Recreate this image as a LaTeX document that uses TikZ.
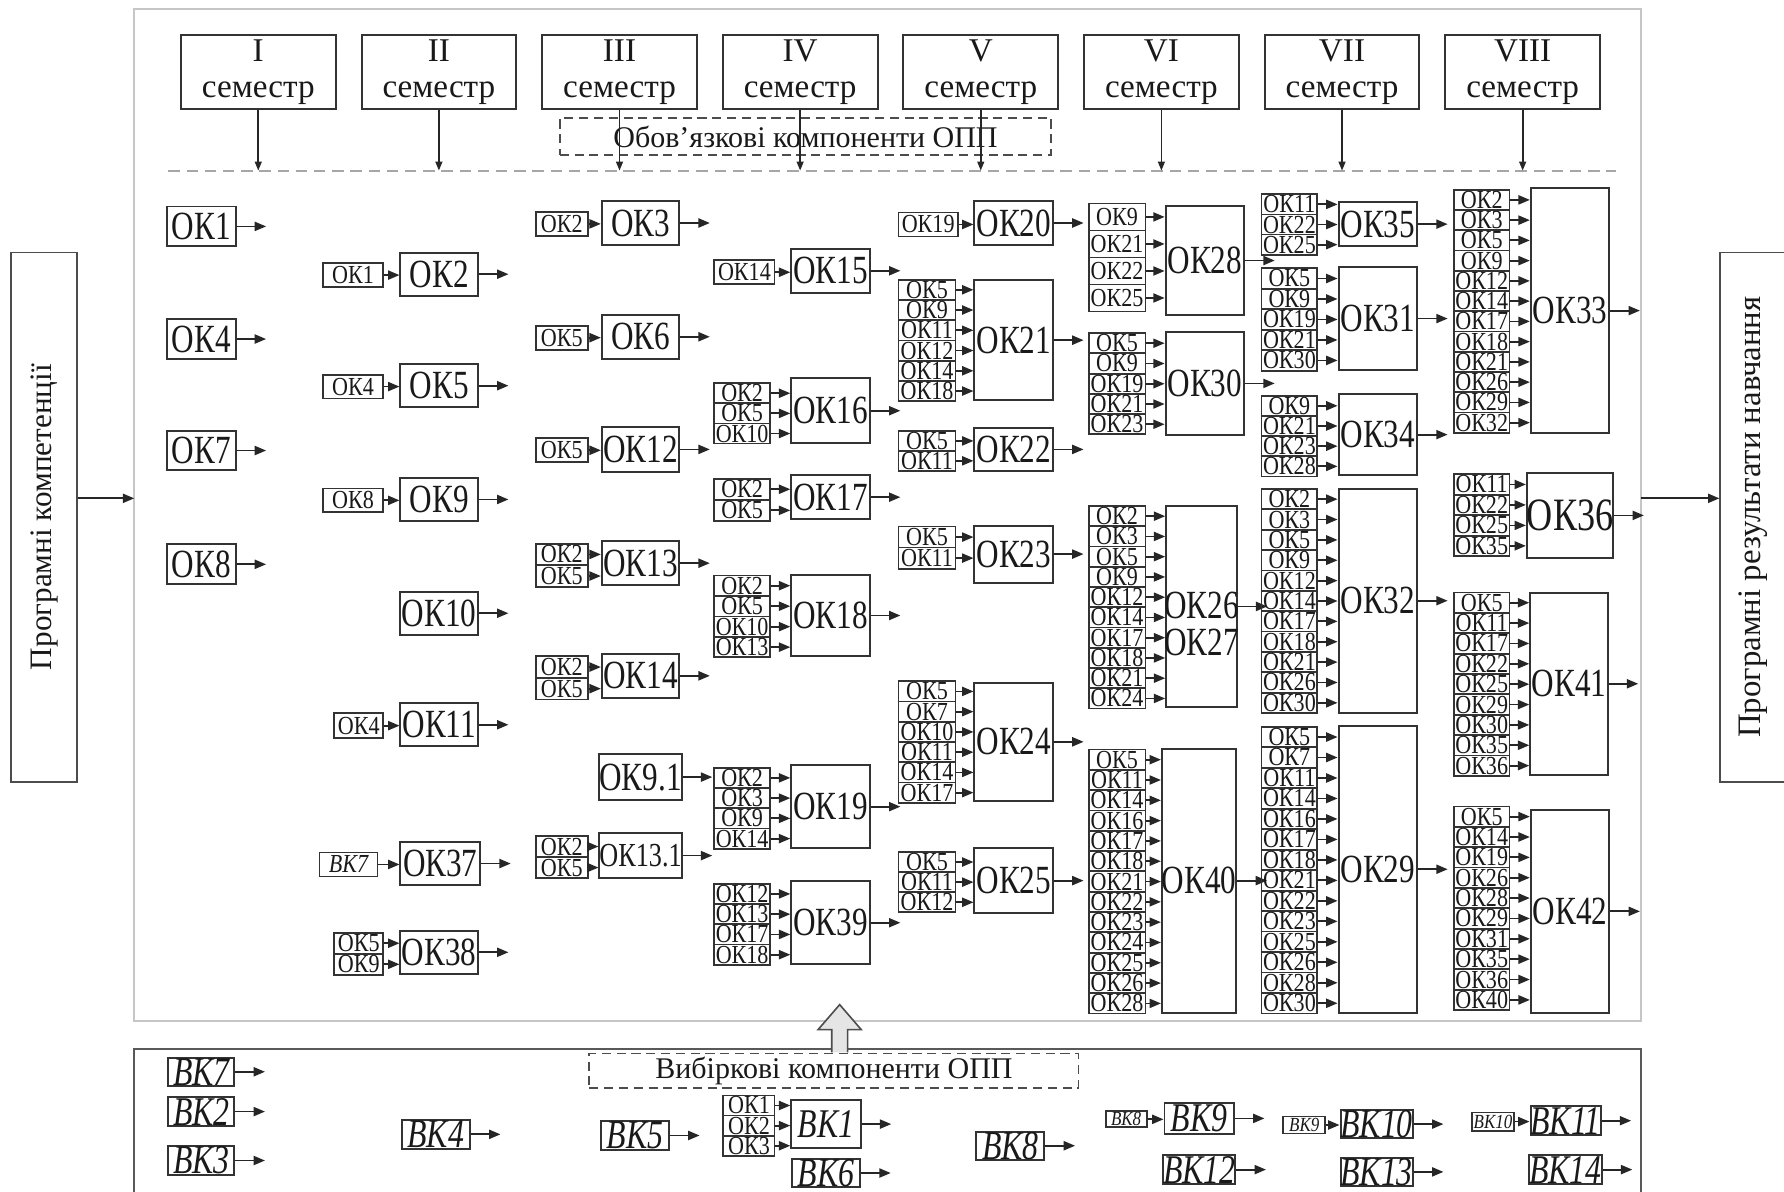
\documentclass[tikz,border=0pt]{standalone}
\usepackage{fontspec}
\setmainfont{Liberation Serif}
\newfontfamily\narrowfont[FakeStretch=0.78]{Liberation Serif}
\newfontfamily\cellfont[FakeStretch=0.85]{Liberation Serif}
\usetikzlibrary{arrows.meta,positioning}

% big box with its outgoing arrow: [style]{name}{x}{y}{width}{height}{label}
\newcommand{\okbox}[7][]{%
  \node[big,#1,minimum width=#5*0.1mm,minimum height=#6*0.1mm] (#2) at (#3,#4) {#7};
  \coordinate (#2-o) at ([xshift=2.6mm]#2.east);
  \draw[arr] (#2) -- (#2-o);
}
% column of prerequisite cells feeding a box: [width]{target}{x}{top}{cell height}{list}
\newcommand{\feeds}[6][5mm]{%
  \foreach \lab [count=\i] in {#6}{%
    \node[cell,minimum width=#1,minimum height=#5*0.1mm,anchor=north west]
      (#2-\i) at ({#3},{#4+(\i-1)*#5}) {\lab};
    \draw[arr] (#2-\i.east) -- (#2-\i.east -| #2.west);
  }%
}

\begin{document}
\begin{tikzpicture}[
    x=0.1mm, y=-0.1mm,
    every node/.style={inner sep=0pt, text=black!90},
    big/.style={draw=black!80, line width=0.5pt, align=center, font=\narrowfont\fontsize{10}{10.5}\selectfont},
    cell/.style={draw=black!80, line width=0.45pt, font=\cellfont\fontsize{6.5}{7}\selectfont},
    vk/.style={font=\narrowfont\itshape\fontsize{10.2}{11}\selectfont},
    sem/.style={draw=black!80, line width=0.5pt, minimum width=13.6mm, minimum height=6.5mm, align=center, font=\fontsize{8.3}{8.8}\selectfont},
    side/.style={draw=black!70, line width=0.45pt, rotate=90, minimum width=46.5mm, minimum height=5.8mm},
    group/.style={draw=black!70, dash pattern=on 0.8mm off 0.5mm, line width=0.45pt, font=\fontsize{7.5}{8}\selectfont},
    frame/.style={draw=gray!45, line width=0.5pt},
    arr/.style={-{Triangle[length=1mm, width=0.8mm]}, line width=0.45pt, black!85}
]
\useasboundingbox[fill=white] (0,0) rectangle (1568,1047);

% frames and side blocks
\coordinate (fnw) at (118,8);
\coordinate (fse) at (1442,897);
\draw[frame] (fnw) rectangle (fse);
\draw[draw=black!65, line width=0.5pt] (118,1060) -- (118,922) -- (1442,922) -- (1442,1060);
\node[side, font=\fontsize{7.8}{8}\selectfont] (pk) at (39,454.5) {Програмні компетенції};
\node[side, font=\fontsize{8.2}{8.5}\selectfont] (pr) at (1541,454.5) {Програмні результати навчання};
\coordinate (row) at (0,438);
\draw[arr] (pk.south |- row) -- (fnw |- row);
\draw[arr] (fse |- row) -- (pr.north |- row);

% semesters
\node[sem] (s1) at (227,63.5) {I\\семестр};
\node[sem, right=2.1mm of s1] (s2) {II\\семестр};
\node[sem, right=2.1mm of s2] (s3) {III\\семестр};
\node[sem, right=2.1mm of s3] (s4) {IV\\семестр};
\node[sem, right=2.1mm of s4] (s5) {V\\семестр};
\node[sem, right=2.1mm of s5] (s6) {VI\\семестр};
\node[sem, right=2.1mm of s6] (s7) {VII\\семестр};
\node[sem, right=2.1mm of s7] (s8) {VIII\\семестр};
\node[group, minimum width=43.2mm, minimum height=3.2mm] (obov) at (708,120) {Обов’язкові компоненти ОПП};
\coordinate (dlw) at (148,150);
\coordinate (dle) at (1420,150);
\draw[gray!70, line width=0.5pt, dash pattern=on 1mm off 0.6mm] (dlw) -- (dle);
\foreach \i in {1,...,8}
  \draw[arr, -{Triangle[length=0.8mm, width=0.6mm]}] (s\i) -- (s\i |- dlw);

% semester I
\okbox{ok1}{177}{199}{60}{35}{ОК1}
\okbox{ok4}{177}{298}{60}{35}{ОК4}
\okbox{ok7}{177}{396}{60}{35}{ОК7}
\okbox{ok8}{177}{496}{60}{35}{ОК8}

% semester II
\okbox{ok2}{386}{241}{68}{38}{ОК2} \feeds[5.3mm]{ok2}{283}{230.5}{21}{ОК1}
\okbox{ok5}{386}{339}{68}{38}{ОК5} \feeds[5.3mm]{ok5}{283}{328.5}{21}{ОК4}
\okbox{ok9}{386}{439}{68}{38}{ОК9} \feeds[5.3mm]{ok9}{283}{428.5}{21}{ОК8}
\okbox{ok10}{386}{539}{68}{38}{ОК10}
\okbox{ok11}{386}{637}{68}{38}{ОК11} \feeds[4.3mm]{ok11}{293}{626}{22}{ОК4}
\okbox{ok37}{387}{759}{70}{38}{ОК37} \feeds[5.1mm]{ok37}{280}{748.5}{21}{\itshape ВК7}
\okbox{ok38}{386}{837}{68}{38}{ОК38} \feeds[4.3mm]{ok38}{293}{819}{18.5}{ОК5,ОК9}

% semester III
\okbox{ok3}{563}{196}{68}{39}{ОК3} \feeds[4.6mm]{ok3}{470}{185.5}{21}{ОК2}
\okbox{ok6}{563}{296}{68}{39}{ОК6} \feeds[4.6mm]{ok6}{470}{285.5}{21}{ОК5}
\okbox{ok12}{563}{395}{68}{39}{ОК12} \feeds[4.6mm]{ok12}{470}{384.5}{21}{ОК5}
\okbox{ok13}{563}{495}{68}{39}{ОК13} \feeds[4.6mm]{ok13}{470}{477}{19}{ОК2,ОК5}
\okbox{ok14}{563}{594}{68}{39}{ОК14} \feeds[4.6mm]{ok14}{470}{576}{19}{ОК2,ОК5}
\okbox{ok91}{563}{683}{68}{40}{ОК9.1}
\okbox[font=\narrowfont\fontsize{8.4}{9}\selectfont]{ok131}{563}{752}{68}{39}{ОК13.1} \feeds[4.6mm]{ok131}{470}{734}{18.5}{ОК2,ОК5}

% semester IV
\okbox{ok15}{730}{238}{69}{39}{ОК15} \feeds[5.3mm]{ok15}{627}{228}{21}{ОК14}
\okbox{ok16}{730}{361}{69}{57}{ОК16} \feeds[4.9mm]{ok16}{627}{336}{17.7}{ОК2,ОК5,ОК10}
\okbox{ok17}{730}{437}{69}{39}{ОК17} \feeds[4.9mm]{ok17}{627}{420}{18.5}{ОК2,ОК5}
\okbox{ok18}{730}{541}{69}{72}{ОК18} \feeds[4.9mm]{ok18}{627}{505}{18}{ОК2,ОК5,ОК10,ОК13}
\okbox{ok19}{730}{709}{69}{73}{ОК19} \feeds[4.9mm]{ok19}{627}{674}{17.8}{ОК2,ОК3,ОК9,ОК14}
\okbox{ok39}{730}{811}{69}{73}{ОК39} \feeds[4.9mm]{ok39}{627}{776}{17.8}{ОК12,ОК13,ОК17,ОК18}

% semester V
\okbox{ok20}{891}{196}{69}{39}{ОК20} \feeds[5.2mm]{ok20}{789}{186}{21}{ОК19}
\okbox{ok21}{891}{299}{69}{105}{ОК21} \feeds{ok21}{789}{245}{17.8}{ОК5,ОК9,ОК11,ОК12,ОК14,ОК18}
\okbox{ok22}{891}{395}{69}{38}{ОК22} \feeds{ok22}{789}{378}{17.5}{ОК5,ОК11}
\okbox{ok23}{891}{487}{69}{50}{ОК23} \feeds{ok23}{789}{462}{18.5}{ОК5,ОК11}
\okbox{ok24}{891}{652}{69}{104}{ОК24} \feeds{ok24}{789}{598}{17.8}{ОК5,ОК7,ОК10,ОК11,ОК14,ОК17}
\okbox{ok25}{891}{774}{69}{57}{ОК25} \feeds{ok25}{789}{748}{17.7}{ОК5,ОК11,ОК12}

% semester VI
\okbox{ok28}{1059}{229}{69}{96}{ОК28} \feeds{ok28}{956}{178}{23.75}{ОК9,ОК21,ОК22,ОК25}
\okbox{ok30}{1059}{337}{69}{90}{ОК30} \feeds{ok30}{956}{292}{17.8}{ОК5,ОК9,ОК19,ОК21,ОК23}
\okbox{ok26}{1056}{533}{62}{176}{} \feeds{ok26}{956}{444}{17.8}{ОК2,ОК3,ОК5,ОК9,ОК12,ОК14,ОК17,ОК18,ОК21,ОК24}
\node[align=center, font=\narrowfont\fontsize{10}{9.2}\selectfont] (ok26t) at ([yshift=-1.55mm]ok26.center) {ОК26\\ОК27};
\okbox{ok40}{1054}{774}{58}{232}{ОК40} \feeds{ok40}{956}{658}{17.85}{ОК5,ОК11,ОК14,ОК16,ОК17,ОК18,ОК21,ОК22,ОК23,ОК24,ОК25,ОК26,ОК28}

% semester VII
\okbox{ok35}{1211}{197}{69}{39}{ОК35} \feeds[4.9mm]{ok35}{1108}{170}{17.7}{ОК11,ОК22,ОК25}
\okbox{ok31}{1211}{280}{69}{91}{ОК31} \feeds[4.9mm]{ok31}{1108}{235}{18}{ОК5,ОК9,ОК19,ОК21,ОК30}
\okbox{ok34}{1211}{382}{69}{71}{ОК34} \feeds[4.9mm]{ok34}{1108}{347}{17.75}{ОК9,ОК21,ОК23,ОК28}
\okbox{ok32}{1211}{528}{69}{197}{ОК32} \feeds[4.9mm]{ok32}{1108}{429}{17.9}{ОК2,ОК3,ОК5,ОК9,ОК12,ОК14,ОК17,ОК18,ОК21,ОК26,ОК30}
\okbox{ok29}{1211}{764}{69}{252}{ОК29} \feeds[4.9mm]{ok29}{1108}{638}{18}{ОК5,ОК7,ОК11,ОК14,ОК16,ОК17,ОК18,ОК21,ОК22,ОК23,ОК25,ОК26,ОК28,ОК30}

% semester VIII
\okbox{ok33}{1380}{273}{69}{215}{ОК33} \feeds[4.9mm]{ok33}{1277}{166}{17.8}{ОК2,ОК3,ОК5,ОК9,ОК12,ОК14,ОК17,ОК18,ОК21,ОК26,ОК29,ОК32}
\okbox[font=\narrowfont\fontsize{11.6}{12}\selectfont]{ok36}{1380}{453}{69}{75}{ОК36} \feeds[4.9mm]{ok36}{1277}{416}{18}{ОК11,ОК22,ОК25,ОК35}
\okbox{ok41}{1379}{601}{68}{160}{ОК41} \feeds[4.9mm]{ok41}{1277}{520}{17.9}{ОК5,ОК11,ОК17,ОК22,ОК25,ОК29,ОК30,ОК35,ОК36}
\okbox{ok42}{1380}{801}{69}{179}{ОК42} \feeds[4.9mm]{ok42}{1277}{708}{17.9}{ОК5,ОК14,ОК19,ОК26,ОК28,ОК29,ОК31,ОК35,ОК36,ОК40}

% elective components
\draw[draw=black!70, fill=gray!20, line width=0.4pt] (731,925) -- (731,905) -- (719,905) -- (738,883) -- (757,905) -- (745,905) -- (745,925);
\node[group, minimum width=43mm, minimum height=3mm] (vyb) at (733,941) {Вибіркові компоненти ОПП};
\okbox[vk]{vk7}{177}{942}{58}{25}{ВК7}
\okbox[vk]{vk2}{177}{977}{58}{25}{ВК2}
\okbox[vk]{vk3}{177}{1020}{58}{25}{ВК3}
\okbox[vk]{vk4}{383}{997}{60}{25}{ВК4}
\okbox[vk]{vk5}{558}{998}{60}{25}{ВК5}
\okbox[vk]{vk1}{726}{988}{61}{42}{ВК1} \feeds[4.5mm]{vk1}{635}{962}{17.7}{ОК1,ОК2,ОК3}
\okbox[vk]{vk6}{726}{1031}{60}{24}{ВК6}
\okbox[vk]{vk8}{888}{1007}{60}{25}{ВК8}
\okbox[vk]{vk9}{1054}{983}{61}{27}{ВК9}
\okbox[vk]{vk10}{1210}{988}{60}{25}{ВК10}
\okbox[vk]{vk11}{1376}{985}{61}{25}{ВК11}
\okbox[vk]{vk12}{1054}{1028}{61}{25}{ВК12}
\okbox[vk]{vk13}{1210}{1030}{60}{25}{ВК13}
\okbox[vk]{vk14}{1376}{1028}{61}{25}{ВК14}
\begin{scope}[cell/.append style={font=\cellfont\itshape\fontsize{5}{5.5}\selectfont}]
  \feeds[3.6mm]{vk9}{971}{976}{14}{ВК8}
  \feeds[3.7mm]{vk10}{1127}{980.5}{15}{ВК9}
  \feeds[3.7mm]{vk11}{1293}{977}{16}{ВК10}
\end{scope}
\end{tikzpicture}
\end{document}
